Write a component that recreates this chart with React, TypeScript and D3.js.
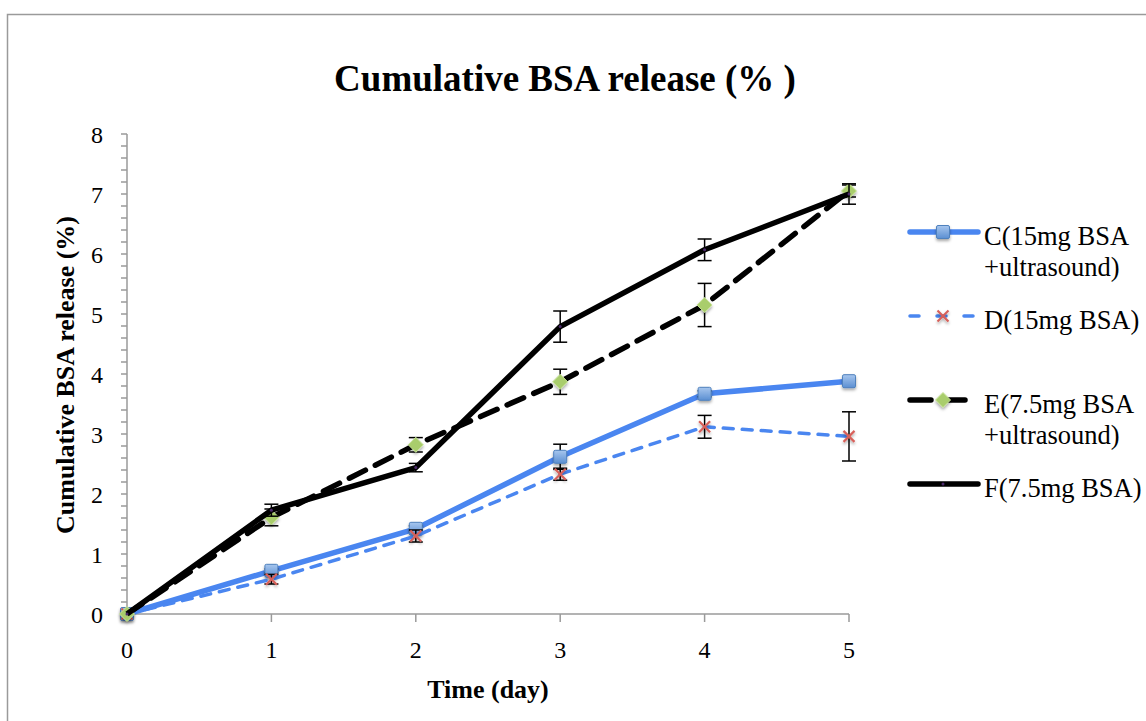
import React from "react";
import * as d3 from "d3";

const days = [0, 1, 2, 3, 4, 5];
const cValues = [0, 0.72, 1.42, 2.62, 3.67, 3.88];
const cErrors = [0, 0.03, 0.05, 0.21, 0.05, 0.05];
const dValues = [0, 0.58, 1.3, 2.33, 3.12, 2.96];
const dErrors = [0, 0.08, 0.1, 0.1, 0.19, 0.41];
const eValues = [0, 1.61, 2.82, 3.87, 5.15, 7.05];
const eErrors = [0, 0.14, 0.12, 0.21, 0.36, 0.1];
const fValues = [0, 1.73, 2.44, 4.79, 6.07, 7.0];
const fErrors = [0, 0.1, 0.07, 0.26, 0.18, 0.17];
const yTicks = [0, 1, 2, 3, 4, 5, 6, 7, 8];
const legendLabels = [
  ["C(15mg BSA", "+ultrasound)"],
  ["D(15mg BSA)"],
  ["E(7.5mg BSA", "+ultrasound)"],
  ["F(7.5mg BSA)"],
];

const W = 1146;
const H = 721;
const serif = "'Liberation Serif', 'Times New Roman', serif";
const tickFont = "'Liberation Serif', serif";

type Series = {
  key: string;
  values: number[];
  errors: number[];
  color: string;
  width: number;
  dash: string | null;
  marker: "square" | "x" | "diamond" | "dot";
};

const series: Series[] = [
  { key: "C", values: cValues, errors: cErrors, color: "#4a86f0", width: 5.5, dash: null, marker: "square" },
  { key: "D", values: dValues, errors: dErrors, color: "#4a86f0", width: 3.5, dash: "10,9", marker: "x" },
  { key: "E", values: eValues, errors: eErrors, color: "#000000", width: 5.5, dash: "18,11", marker: "diamond" },
  { key: "F", values: fValues, errors: fErrors, color: "#000000", width: 5.5, dash: null, marker: "dot" },
];

function Marker({ type, x, y }: { type: string; x: number; y: number }) {
  if (type === "square") {
    return (
      <rect x={x - 6.5} y={y - 6.5} width={13} height={13} rx={1.5}
        fill="url(#sqGrad)" stroke="#4f81bd" strokeWidth={1} filter="url(#shadow)" />
    );
  }
  if (type === "x") {
    const s = 5.5;
    return (
      <g stroke="#d7605a" strokeWidth={2.2} filter="url(#shadow)">
        <line x1={x - s} y1={y - s} x2={x + s} y2={y + s} />
        <line x1={x - s} y1={y + s} x2={x + s} y2={y - s} />
      </g>
    );
  }
  if (type === "diamond") {
    const s = 7.5;
    return (
      <path d={`M${x},${y - s}L${x + s},${y}L${x},${y + s}L${x - s},${y}Z`}
        fill="#a9cd6c" stroke="#c8e39a" strokeWidth={1} filter="url(#shadow)" />
    );
  }
  return <circle cx={x} cy={y} r={1.5} fill="#4b2a6b" />;
}

export default function App() {
  const x = d3.scaleLinear().domain([0, 5]).range([127, 849]);
  const y = d3.scaleLinear().domain([0, 8]).range([614, 134]);
  const line = d3.line<number>().x((_, i) => x(days[i])).y((v) => y(v));
  const minorTicks = d3.range(0, 8.0001, 0.2);

  const legendY = [232, 316, 400, 484];

  return (
    <svg width={W} height={H} style={{ position: "absolute", left: 0, top: 0, background: "#fff" }}>
      <defs>
        <linearGradient id="sqGrad" x1="0" y1="0" x2="0" y2="1">
          <stop offset="0" stopColor="#a7c6ee" />
          <stop offset="1" stopColor="#5b8fd2" />
        </linearGradient>
        <filter id="shadow" x="-50%" y="-50%" width="200%" height="200%">
          <feDropShadow dx="0" dy="2" stdDeviation="1.5" floodColor="#000" floodOpacity="0.35" />
        </filter>
      </defs>
      <rect x={0} y={0} width={W} height={H} fill="#fff" />
      {/* outer frame */}
      <path d={`M7.5,${H + 5}V14.5H${W + 5}`} fill="none" stroke="#9a9a9a" strokeWidth={1.5} />

      {/* title */}
      <text x={565} y={91} textAnchor="middle" fontFamily={serif} fontWeight="bold" fontSize={37} fill="#000">
        Cumulative BSA release (% )
      </text>

      {/* y axis */}
      <line x1={x(0)} x2={x(0)} y1={y(0)} y2={y(8)} stroke="#9a9a9a" strokeWidth={1.5} />
      {minorTicks.map((t, i) => (
        <line key={i} x1={x(0) - 6} x2={x(0)} y1={y(t)} y2={y(t)} stroke="#9a9a9a" strokeWidth={1.5} />
      ))}
      {yTicks.map((t) => (
        <text key={t} x={103} y={y(t)} dy="0.36em" textAnchor="end" fontFamily={tickFont} fontSize={24} fill="#000">
          {t}
        </text>
      ))}
      {/* x axis */}
      <line x1={x(0)} x2={x(5)} y1={y(0)} y2={y(0)} stroke="#9a9a9a" strokeWidth={1.5} />
      {days.map((d) => (
        <g key={d}>
          <line x1={x(d)} x2={x(d)} y1={y(0)} y2={y(0) + 8} stroke="#9a9a9a" strokeWidth={1.5} />
          <text x={x(d)} y={658} textAnchor="middle" fontFamily={tickFont} fontSize={24} fill="#000">
            {d}
          </text>
        </g>
      ))}

      {/* axis titles */}
      <text x={488} y={698} textAnchor="middle" fontFamily={serif} fontWeight="bold" fontSize={26} fill="#000">
        Time (day)
      </text>
      <text transform="translate(74,375) rotate(-90)" textAnchor="middle" fontFamily={serif} fontWeight="bold" fontSize={26} fill="#000">
        Cumulative BSA release (%)
      </text>

      {/* series */}
      {series.map((s) => (
        <g key={s.key}>
          <path d={line(s.values) || ""} fill="none" stroke={s.color} strokeWidth={s.width}
            strokeDasharray={s.dash || undefined} strokeLinejoin="round" strokeLinecap={s.dash ? "round" : "butt"} />
          {s.values.map((v, i) =>
            s.errors[i] > 0 ? (
              <g key={i} stroke="#000" strokeWidth={1.5}>
                <line x1={x(days[i])} x2={x(days[i])} y1={y(v - s.errors[i])} y2={y(v + s.errors[i])} />
                <line x1={x(days[i]) - 7} x2={x(days[i]) + 7} y1={y(v - s.errors[i])} y2={y(v - s.errors[i])} />
                <line x1={x(days[i]) - 7} x2={x(days[i]) + 7} y1={y(v + s.errors[i])} y2={y(v + s.errors[i])} />
              </g>
            ) : null
          )}
          {s.values.map((v, i) => (
            <Marker key={i} type={s.marker} x={x(days[i])} y={y(v)} />
          ))}
        </g>
      ))}

      {/* legend */}
      {series.map((s, i) => (
        <g key={s.key}>
          <line x1={910} x2={978} y1={legendY[i]} y2={legendY[i]} stroke={s.color} strokeWidth={s.width}
            strokeDasharray={s.dash ? (s.key === "D" ? "9,18" : "21,13") : undefined} strokeLinecap="round" />
          <Marker type={s.marker} x={943} y={legendY[i]} />
          {legendLabels[i].map((t, j) => (
            <text key={j} x={984} y={legendY[i] + 13 + j * 31} fontFamily={serif} fontSize={26.5} fill="#000">
              {t}
            </text>
          ))}
        </g>
      ))}
    </svg>
  );
}
